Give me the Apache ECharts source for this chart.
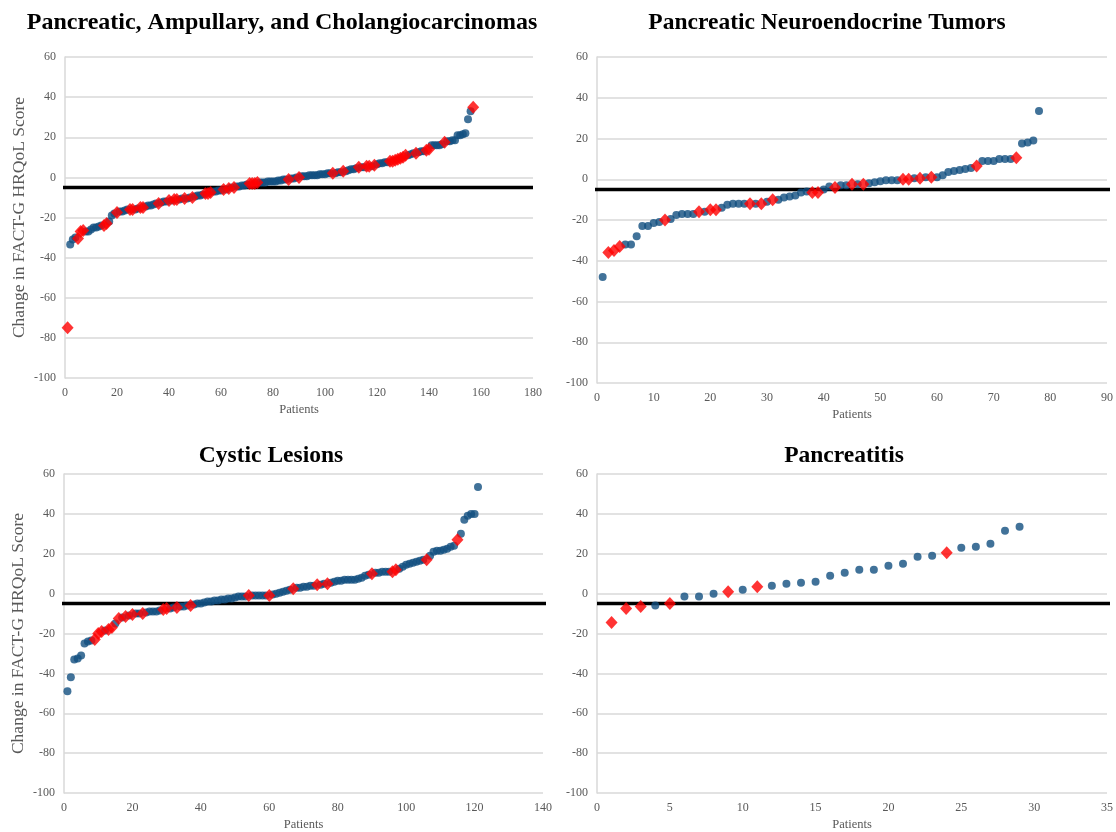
<!DOCTYPE html>
<html>
<head>
<meta charset="utf-8">
<script src="https://cdn.jsdelivr.net/npm/echarts@6/dist/echarts.min.js"></script>
<style>
html,body{margin:0;padding:0;background:#fff;}
#chart{width:1116px;height:832px;}
</style>
</head>
<body>
<div id="chart"></div>
<script>
// ---------- DATA ----------
const titles = [
  "Pancreatic, Ampullary, and Cholangiocarcinomas",
  "Pancreatic Neuroendocrine Tumors",
  "Cystic Lesions",
  "Pancreatitis"
];
const yAxisTitle = "Change in FACT-G HRQoL Score";
const xAxisTitle = "Patients";
const threshold = -5;

const yTicks = { min: -100, max: 60, interval: 20 };
const xMax = [180, 90, 140, 35];
const xInterval = [20, 10, 20, 5];

// Panel 1: Pancreatic, Ampullary, and Cholangiocarcinomas (sorted change per patient)
const valuesPAC = [
  -75, -33.5, -31, -30, -30.5, -27, -26.5, -27, -27, -26,
  -25, -25, -24.5, -24, -24, -23, -22, -19, -18, -17.5,
  -17, -17, -16.5, -16, -16, -16, -16, -15.5, -15, -15,
  -14.5, -14, -14, -13.5, -13, -13, -12.5, -12, -12, -11.5,
  -11.5, -11, -11, -11, -10.5, -10.5, -10.5, -10, -10, -9.5,
  -9, -9, -8.5, -8, -8, -7.5, -7, -7, -6.5, -6.5,
  -6, -6, -5.5, -5, -5, -4.5, -4.5, -4, -4, -3.5,
  -3, -3, -3, -2.5, -2.5, -2.5, -2.5, -2, -2, -2,
  -2, -1.5, -1.5, -1, -1, -1, -0.5, -0.5, 0, 0,
  0.5, 0.5, 0.5, 1, 1, 1, 1, 1.5, 1.5, 1.5,
  2, 2, 2, 2, 2.5, 2.5, 3, 3, 3.5, 4,
  4, 4.5, 5, 5, 5, 5.5, 5.5, 5.5, 6, 6.5,
  7, 7, 7.5, 7.5, 8, 8, 8.5, 9, 9.5, 10,
  11, 11, 11.5, 12, 12, 12.5, 13, 13, 13.5, 14,
  16, 16, 16, 16, 16.5, 17.5, 18, 18, 18.5, 18.5,
  21, 21, 21.5, 22, 29, 33, 35
];
const redPAC = [1,5,6,7,15,16,20,25,26,29,30,36,40,42,43,46,49,54,55,56,61,63,65,71,72,73,74,86,90,103,107,113,116,117,119,125,126,127,128,129,130,131,135,139,140,146,157];

// Panel 2: Pancreatic Neuroendocrine Tumors
const valuesPNET = [
  -48, -36, -35, -33, -32, -32, -28, -23, -23, -21.5,
  -21, -20, -19.5, -17.5, -17, -17, -17, -16, -16, -15,
  -15, -14, -12.5, -12, -12, -12, -12, -12, -12, -11,
  -10, -10, -9, -8.5, -8, -6.5, -6, -6.5, -6.5, -5,
  -3.5, -4, -3, -3, -2.5, -2.5, -2.5, -2, -1.5, -1,
  -0.5, -0.5, -0.5, 0, 0, 0.5, 0.5, 1, 1, 1,
  2, 3.5, 4, 4.5, 5, 5.5, 6.5, 9, 9, 9,
  10, 10, 10, 10.5, 17.5, 18, 19, 33.5
];
const redPNET = [2,3,4,12,18,20,21,27,29,31,38,39,42,45,47,54,55,57,59,67,74];

// Panel 3: Cystic Lesions
const valuesCyst = [
  -49, -42, -33, -32.5, -31, -25, -24, -23.5, -23, -20,
  -19, -18.5, -18, -17, -15, -12.5, -12, -11.5, -11, -10.5,
  -10, -10, -10, -9.5, -9, -9, -9, -8.5, -8, -7.5,
  -7.5, -7, -7, -6.5, -6.5, -6, -6, -5.5, -5, -5,
  -4.5, -4, -4, -3.5, -3.5, -3, -3, -2.5, -2.5, -2,
  -1.5, -1.5, -1.5, -1, -1, -1, -1, -1, -1, -1,
  -0.5, 0, 0.5, 1, 1.5, 2, 2.5, 3, 3, 3.5,
  3.5, 4, 4, 4.5, 4.5, 5, 5, 5.5, 6, 6.5,
  6.5, 7, 7, 7, 7, 7.5, 8, 9, 9.5, 10,
  10.5, 10.5, 11, 11, 11, 11, 12, 12.5, 13.5, 14.5,
  15, 15.5, 16, 16.5, 17, 17, 19, 21, 21.5, 21.5,
  22, 22.5, 23.5, 24, 27, 30, 37, 39, 40, 40,
  53.5
];
const redCyst = [9,10,11,13,14,16,18,20,23,29,30,33,37,54,60,67,74,77,90,96,97,106,115];

// Panel 4: Pancreatitis
const valuesPanc = [
  -14.5, -7.5, -6.5, -6, -5, -1.5, -1.5, 0, 1, 2,
  3.5, 4, 5, 5.5, 6, 9, 10.5, 12, 12, 14,
  15, 18.5, 19, 20.5, 23, 23.5, 25, 31.5, 33.5
];
const redPanc = [1,2,3,5,9,11,24];

// ---------- LAYOUT / STYLE ----------
const panels = [
  { values: valuesPAC,  red: redPAC,  grid: {left: 65,  top: 57,  width: 468, height: 321}, title: {x: 277, y: 6},   yName: true,  lineFrom: -3,   lineTo: 180 },
  { values: valuesPNET, red: redPNET, grid: {left: 597, top: 57,  width: 513, height: 326}, title: {x: 822, y: 6},   yName: false, lineFrom: -0.7, lineTo: 91 },
  { values: valuesCyst, red: redCyst, grid: {left: 64,  top: 474, width: 479, height: 321}, title: {x: 266, y: 439}, yName: true,  lineFrom: -2,   lineTo: 141 },
  { values: valuesPanc, red: redPanc, grid: {left: 597, top: 474, width: 513, height: 321}, title: {x: 839, y: 439}, yName: false, lineFrom: 0,    lineTo: 35.5 }
];

const SERIF = "'Liberation Serif', 'Times New Roman', serif";
const GRAY = '#595959';
const BLUE = '#114f7f';
const RED = '#ff0000';

const option = {
  backgroundColor: '#ffffff',
  animation: false,
  title: panels.map((p, i) => ({
    text: titles[i],
    left: p.title.x,
    top: p.title.y,
    textAlign: 'center',
    textStyle: { fontFamily: SERIF, fontWeight: 'bold', fontSize: i === 0 ? 24 : 23.5, color: '#000' }
  })),
  grid: panels.map(p => Object.assign({ containLabel: false }, p.grid)),
  xAxis: panels.map((p, i) => ({
    type: 'value',
    gridIndex: i,
    min: 0,
    max: xMax[i],
    interval: xInterval[i],
    name: xAxisTitle,
    nameLocation: 'middle',
    nameGap: 25,
    nameTextStyle: { fontFamily: SERIF, fontSize: 12.5, color: GRAY },
    axisLine: { show: false },
    axisTick: { show: false },
    splitLine: { show: false },
    axisLabel: { fontFamily: SERIF, fontSize: 12, color: GRAY, margin: 9, showMaxLabel: true }
  })),
  yAxis: panels.map((p, i) => ({
    type: 'value',
    gridIndex: i,
    min: yTicks.min,
    max: yTicks.max,
    interval: yTicks.interval,
    name: p.yName ? yAxisTitle : '',
    nameLocation: 'middle',
    nameGap: 37,
    nameTextStyle: { fontFamily: SERIF, fontSize: 17.5, color: GRAY },
    axisLine: { show: true, onZero: false, lineStyle: { color: '#d9d9d9', width: 1.5 } },
    axisTick: { show: false },
    splitLine: { show: true, lineStyle: { color: '#d9d9d9', width: 1.5 } },
    axisLabel: { fontFamily: SERIF, fontSize: 12, color: GRAY, margin: 9 }
  })),
  series: []
};

panels.forEach((p, i) => {
  const redSet = new Set(p.red);
  const blueData = [];
  const redData = [];
  p.values.forEach((v, k) => {
    const pt = [k + 1, v];
    if (redSet.has(k + 1)) redData.push(pt); else blueData.push(pt);
  });
  // threshold line (-5)
  option.series.push({
    type: 'line',
    xAxisIndex: i, yAxisIndex: i,
    data: [[p.lineFrom, threshold], [p.lineTo, threshold]],
    symbol: 'none',
    clip: false,
    silent: true,
    lineStyle: { color: '#000', width: 3.5 },
    z: 2
  });
  option.series.push({
    type: 'scatter',
    xAxisIndex: i, yAxisIndex: i,
    data: blueData,
    symbol: 'circle',
    symbolSize: 8,
    itemStyle: { color: BLUE },
    clip: false,
    z: 3
  });
  option.series.push({
    type: 'scatter',
    xAxisIndex: i, yAxisIndex: i,
    data: redData,
    symbol: 'diamond',
    symbolSize: [12, 13],
    itemStyle: { color: RED },
    clip: false,
    z: 4
  });
});

const chart = echarts.init(document.getElementById('chart'), null, { renderer: 'canvas' });
chart.setOption(option);
</script>
</body>
</html>
